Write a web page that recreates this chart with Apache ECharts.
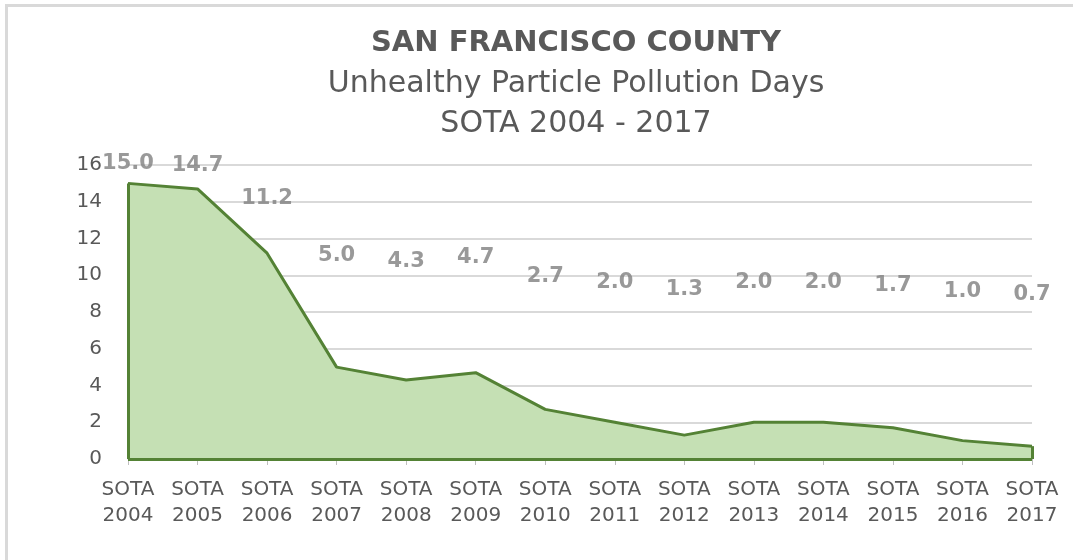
<!DOCTYPE html>
<html>
<head>
<meta charset="utf-8">
<title>San Francisco County - Unhealthy Particle Pollution Days</title>
<script src="https://cdn.jsdelivr.net/npm/echarts@6/dist/echarts.min.js"></script>
<style>
  html, body { margin: 0; padding: 0; background: #fff; overflow: hidden; width: 1073px; height: 560px; }
  .edge { position: absolute; background: #d9d9d9; }
  #edgeTop { left: 5px; top: 4px; width: 1068px; height: 3px; }
  #edgeLeft { left: 5px; top: 4px; width: 3px; height: 556px; }
  #main { position: absolute; left: 0; top: 0; width: 1073px; height: 560px; }
</style>
</head>
<body>
<div class="edge" id="edgeTop"></div>
<div class="edge" id="edgeLeft"></div>
<div id="main"></div>
<script type="text/javascript">
  // 数据
  var years = ['2004', '2005', '2006', '2007', '2008', '2009', '2010',
               '2011', '2012', '2013', '2014', '2015', '2016', '2017'];
  var days = [15.0, 14.7, 11.2, 5.0, 4.3, 4.7, 2.7, 2.0, 1.3, 2.0, 2.0, 1.7, 1.0, 0.7];
  var yTicks = [0, 2, 4, 6, 8, 10, 12, 14, 16];

  var categories = years.map(function (y) { return 'SOTA\n' + y; });
  var first = categories[0];
  var last = categories[categories.length - 1];

  var lineColor = '#548235';
  var fillColor = '#c5e0b4';
  var textColor = '#595959';

  var myChart = echarts.init(document.getElementById('main'));

  var option = {
    backgroundColor: 'transparent',
    title: {
      text: 'SAN FRANCISCO COUNTY',
      subtext: 'Unhealthy Particle Pollution Days\nSOTA 2004 - 2017',
      left: 571,
      top: 24,
      textAlign: 'center',
      itemGap: 6,
      textStyle: {
        fontFamily: 'DejaVu Sans',
        fontWeight: 'bold',
        fontSize: 29,
        color: textColor
      },
      subtextStyle: {
        fontFamily: 'DejaVu Sans',
        fontSize: 30,
        lineHeight: 40,
        color: textColor
      }
    },
    grid: {
      left: 128,
      right: 41,
      top: 165,
      bottom: 101
    },
    xAxis: {
      type: 'category',
      boundaryGap: false,
      data: categories,
      axisLine: { show: true, lineStyle: { color: '#d9d9d9', width: 1 } },
      axisTick: { show: true, alignWithLabel: true, length: 6, lineStyle: { color: '#bfbfbf' } },
      axisLabel: {
        interval: 0,
        margin: 18,
        fontFamily: 'DejaVu Sans',
        fontSize: 20,
        lineHeight: 26,
        color: textColor
      },
      splitLine: { show: false }
    },
    yAxis: [
      {
        type: 'value',
        min: yTicks[0],
        max: yTicks[yTicks.length - 1],
        interval: yTicks[1] - yTicks[0],
        axisLine: { show: false },
        axisTick: { show: false },
        axisLabel: {
          margin: 26,
          fontFamily: 'DejaVu Sans',
          fontSize: 20,
          color: textColor
        },
        splitLine: { lineStyle: { color: '#d9d9d9', width: 2 } }
      },
      {
        // 隐藏轴，只用来放数据标签
        type: 'value',
        min: -16,
        max: 16,
        show: false,
        splitLine: { show: false }
      }
    ],
    series: [
      {
        name: 'Unhealthy Particle Pollution Days',
        type: 'line',
        data: days,
        symbol: 'none',
        silent: true,
        lineStyle: { color: lineColor, width: 3 },
        areaStyle: { color: fillColor, opacity: 1 },
        z: 3,
        markLine: {
          silent: true,
          symbol: 'none',
          label: { show: false },
          lineStyle: { color: lineColor, width: 3, type: 'solid' },
          data: [
            [{ coord: [first, 0] }, { coord: [first, days[0]] }],
            [{ coord: [last, 0] }, { coord: [last, days[days.length - 1]] }],
            [{ coord: [first, 0] }, { coord: [last, 0] }]
          ]
        }
      },
      {
        name: 'labels',
        type: 'scatter',
        yAxisIndex: 1,
        data: days,
        symbolSize: 1,
        silent: true,
        itemStyle: { color: 'rgba(0,0,0,0)' },
        label: {
          show: true,
          position: 'top',
          distance: 0,
          fontFamily: 'DejaVu Sans',
          fontWeight: 'bold',
          fontSize: 21,
          color: '#7f7f7f',
          formatter: function (p) { return p.value.toFixed(1); }
        },
        z: 5
      }
    ]
  };

  myChart.setOption(option);
</script>
</body>
</html>
